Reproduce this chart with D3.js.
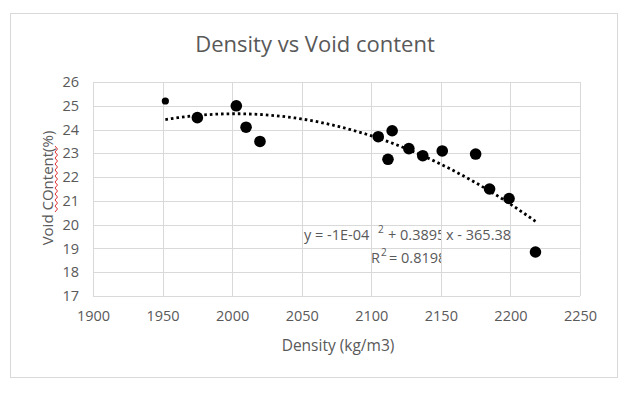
<!DOCTYPE html>
<html>
<head>
<meta charset="utf-8">
<script src="https://cdn.jsdelivr.net/npm/d3@7"></script>
<style>
  body { margin: 0; background: #fff; }
  text { font-family: "Open Sans", "Noto Sans", sans-serif; fill: #595959; }
</style>
</head>
<body>
<div id="chart"></div>
<script>
// data
var density = [1952, 1975, 2003, 2010, 2020, 2105, 2112, 2115, 2127, 2137, 2151, 2175, 2185, 2199, 2218];
var voidContent = [25.2, 24.5, 25.0, 24.1, 23.5, 23.7, 22.75, 23.95, 23.2, 22.9, 23.1, 22.97, 21.5, 21.1, 18.85];
var xTicks = [1900, 1950, 2000, 2050, 2100, 2150, 2200, 2250];
var yTicks = [17, 18, 19, 20, 21, 22, 23, 24, 25, 26];

var W = 630, H = 394;
var margin = {top: 82, right: 50, bottom: 98, left: 93},
    width = 580 - margin.left,
    height = 296 - margin.top;

var svg = d3.select("#chart").append("svg")
    .attr("width", W)
    .attr("height", H);

// chart border
svg.append("rect")
    .attr("x", 10.5).attr("y", 13.5)
    .attr("width", 607).attr("height", 364)
    .attr("fill", "none")
    .attr("stroke", "#d9d9d9");

svg.append("text")
    .attr("x", 315).attr("y", 52)
    .attr("text-anchor", "middle")
    .attr("font-size", "22px")
    .text("Density vs Void content");

var g = svg.append("g")
    .attr("transform", "translate(" + margin.left + "," + margin.top + ")");

var x = d3.scaleLinear().domain([1900, 2250]).range([0, width]);
var y = d3.scaleLinear().domain([17, 26]).range([height, 0]);

// grid
g.append("g").selectAll("line")
    .data(yTicks)
    .enter().append("line")
    .attr("x1", 0).attr("x2", width)
    .attr("y1", function (d) { return Math.round(y(d)) + 0.5; })
    .attr("y2", function (d) { return Math.round(y(d)) + 0.5; })
    .attr("stroke", "#d9d9d9");

g.append("g").selectAll("line")
    .data(xTicks)
    .enter().append("line")
    .attr("y1", 0).attr("y2", height)
    .attr("x1", function (d) { return Math.round(x(d)) + 0.5; })
    .attr("x2", function (d) { return Math.round(x(d)) + 0.5; })
    .attr("stroke", "#d9d9d9");

// axes (labels only)
var xAxis = g.append("g")
    .attr("transform", "translate(0," + height + ")")
    .call(d3.axisBottom(x).tickValues(xTicks).tickSize(0).tickPadding(15).tickFormat(d3.format("d")));
var yAxis = g.append("g")
    .call(d3.axisLeft(y).tickValues(yTicks).tickSize(0).tickPadding(14).tickFormat(d3.format("d")));
[xAxis, yAxis].forEach(function (a) {
    a.select(".domain").remove();
    a.selectAll("text")
        .attr("font-family", "'Open Sans', 'Noto Sans', sans-serif")
        .attr("font-size", "14.5px")
        .style("fill", "#595959");
});

// polynomial (order 2) trendline, least squares like excel
function quadFit(xs, ys) {
    var n = xs.length, mx = d3.mean(xs);
    var s = [0, 0, 0, 0, 0], t = [0, 0, 0];
    for (var i = 0; i < n; i++) {
        var u = xs[i] - mx;
        for (var k = 0; k < 5; k++) s[k] += Math.pow(u, k);
        for (var k2 = 0; k2 < 3; k2++) t[k2] += ys[i] * Math.pow(u, k2);
    }
    var A = [[s[0], s[1], s[2], t[0]], [s[1], s[2], s[3], t[1]], [s[2], s[3], s[4], t[2]]];
    for (var c = 0; c < 3; c++) {
        for (var r = c + 1; r < 3; r++) {
            var f = A[r][c] / A[c][c];
            for (var j = c; j < 4; j++) A[r][j] -= f * A[c][j];
        }
    }
    var b = [0, 0, 0];
    for (var r2 = 2; r2 >= 0; r2--) {
        var v = A[r2][3];
        for (var j2 = r2 + 1; j2 < 3; j2++) v -= A[r2][j2] * b[j2];
        b[r2] = v / A[r2][r2];
    }
    return function (xv) { var u = xv - mx; return b[0] + b[1] * u + b[2] * u * u; };
}

var fit = quadFit(density, voidContent);
var xMin = d3.min(density), xMax = d3.max(density);
var trend = d3.range(0, 61).map(function (i) {
    var xv = xMin + (xMax - xMin) * i / 60;
    return [xv, fit(xv)];
});

g.append("path")
    .datum(trend)
    .attr("fill", "none")
    .attr("stroke", "#000")
    .attr("stroke-width", 2.8)
    .attr("stroke-dasharray", "2.6,3")
    .attr("d", d3.line()
        .x(function (d) { return x(d[0]); })
        .y(function (d) { return y(d[1]); }));

// markers
g.append("g").selectAll("circle")
    .data(density)
    .enter().append("circle")
    .attr("cx", function (d) { return x(d); })
    .attr("cy", function (d, i) { return y(voidContent[i]); })
    .attr("r", function (d, i) { return i === 0 ? 3.6 : 5.8; })
    .attr("fill", "#000");

// trendline label, clipped like the original text box
svg.append("clipPath").attr("id", "lblclip")
    .append("rect").attr("x", 290).attr("y", 215).attr("width", 151).attr("height", 50);

var lbl = svg.append("g").attr("font-size", "14.5px");
var clipped = lbl.append("g").attr("clip-path", "url(#lblclip)");
clipped.append("text").attr("x", 304).attr("y", 240).text("y = -1E-04");
clipped.append("text").attr("x", 378).attr("y", 233).attr("font-size", "10px").text("2");
clipped.append("text").attr("x", 388).attr("y", 240).text("+ 0.3895");
clipped.append("text").attr("x", 371).attr("y", 263).text("R");
clipped.append("text").attr("x", 381).attr("y", 256).attr("font-size", "10px").text("2");
clipped.append("text").attr("x", 389).attr("y", 263).text("= 0.8198");
lbl.append("text").attr("x", 446).attr("y", 240).text("x - 365.38");

// axis titles
svg.append("text")
    .attr("x", 338).attr("y", 351)
    .attr("text-anchor", "middle")
    .attr("font-size", "15.5px")
    .text("Density (kg/m3)");

svg.append("text")
    .attr("transform", "translate(53,188) rotate(-90)")
    .attr("text-anchor", "middle")
    .attr("font-size", "15px")
    .text("Void COntent(%)");

// spell-check squiggle under "COntent"
var sq = d3.range(0, 23).map(function (i) { return [i % 2 ? 57.5 : 55, 212 - i * 3]; });
svg.append("path")
    .attr("d", d3.line()(sq))
    .attr("fill", "none")
    .attr("stroke", "#e03030")
    .attr("stroke-width", 1);
</script>
</body>
</html>
